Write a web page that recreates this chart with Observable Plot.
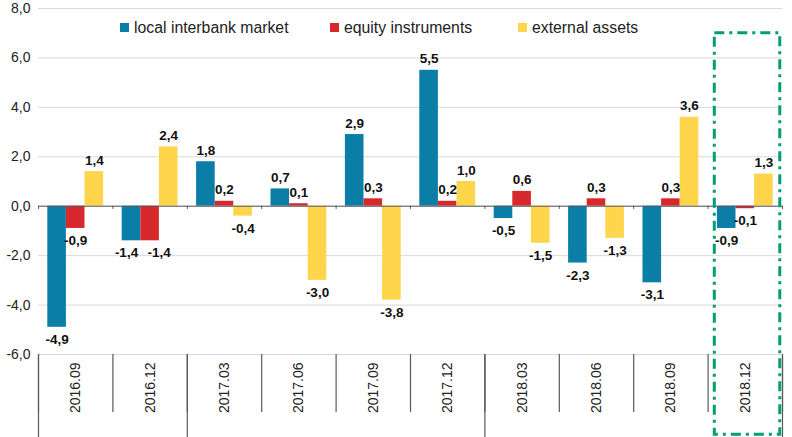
<!DOCTYPE html>
<html>
<head>
<meta charset="utf-8">
<script src="https://cdn.jsdelivr.net/npm/d3@7"></script>
<script src="https://cdn.jsdelivr.net/npm/@observablehq/plot@0.6"></script>
<style>
  html, body { margin: 0; padding: 0; background: #fff; }
  #wrap { position: relative; width: 792px; height: 437px; font-family: "Liberation Sans", Arial, sans-serif; }
  #legend { position: absolute; top: 19px; left: 0; width: 792px; font-size: 15.8px; color: #222; white-space: nowrap; }
  #legend span.item { position: absolute; top: 0; }
  #legend i { display: inline-block; width: 9px; height: 9px; margin-right: 5px; vertical-align: 1px; }
</style>
</head>
<body>
<div id="wrap">
  <div id="chart"></div>
  <div id="legend"></div>
</div>
<script>
const categories = ["2016.09","2016.12","2017.03","2017.06","2017.09","2017.12","2018.03","2018.06","2018.09","2018.12"];
const seriesNames = ["local interbank market","equity instruments","external assets"];
const localInterbank = [-4.9, -1.4, 1.8, 0.7, 2.9, 5.5, -0.5, -2.3, -3.1, -0.9];
const equityInstruments = [-0.9, -1.4, 0.2, 0.1, 0.3, 0.2, 0.6, 0.3, 0.3, -0.1];
const externalAssets = [1.4, 2.4, -0.4, -3.0, -3.8, 1.0, -1.5, -1.3, 3.6, 1.3];
const yTicks = [-6, -4, -2, 0, 2, 4, 6, 8];
const yearGroupBounds = [0, 2, 6, 10];
const highlighted = "2018.12";
const colors = ["#0B7EA8", "#D6282D", "#FFD54C"];
const legendLeft = [120, 330, 518];

const seriesValues = [localInterbank, equityInstruments, externalAssets];
const rows = [];
categories.forEach((c, i) => {
  seriesValues.forEach((vals, k) => {
    // labels of equal neighbouring negative bars are pushed apart, as in the source
    const clash = vals[i] < 0 && k < 2 && localInterbank[i] < 0 && equityInstruments[i] < 0 &&
      Math.abs(localInterbank[i] - equityInstruments[i]) < 0.3;
    rows.push({cat: c, i, series: seriesNames[k], k, value: vals[i],
      x1: i + 0.125 + 0.25 * k, x2: i + 0.375 + 0.25 * k,
      nudge: clash ? (k === 0 ? -1 : 1) : 0});
  });
});
const fmt = v => v.toFixed(1).replace(".", ",");
const catRows = categories.map((c, i) => ({cat: c, i}));
const bounds = d3.range(categories.length + 1);
const hi = categories.indexOf(highlighted);
const mid = d => (d.x1 + d.x2) / 2;
const labelStyle = {text: d => fmt(d.value), fontWeight: "bold", fontSize: 13.5, fill: "#111"};

const plot = Plot.plot({
  width: 792,
  height: 437,
  marginLeft: 38,
  marginRight: 10,
  marginTop: 8,
  marginBottom: 83,
  style: {fontFamily: "Liberation Sans, Arial, sans-serif", background: "#fff"},
  x: {domain: [0, categories.length], axis: null},
  y: {domain: [-6, 8], axis: null},
  color: {domain: seriesNames, range: colors},
  marks: [
    Plot.gridY(yTicks, {stroke: "#d9d9d9", strokeOpacity: 1, strokeWidth: 1}),
    Plot.axisY(yTicks, {tickSize: 0, tickPadding: 8, tickFormat: fmt, fontSize: 14, fill: "#222", stroke: null, label: null}),
    Plot.rectY(rows, {x1: "x1", x2: "x2", y1: 0, y2: "value", fill: "series"}),
    Plot.ruleY([0], {stroke: "#595959", strokeWidth: 1}),
    Plot.ruleX(bounds, {x: d => d, y1: 0, y2: -0.13, stroke: "#595959"}),
    Plot.text(rows.filter(d => d.value >= 0), {x: mid, y: "value", lineAnchor: "bottom", dy: -7, ...labelStyle}),
    Plot.text(rows.filter(d => d.value < 0 && d.nudge === 0), {x: mid, y: "value", lineAnchor: "top", dy: 7, ...labelStyle}),
    Plot.text(rows.filter(d => d.value < 0 && d.nudge < 0), {x: mid, y: "value", lineAnchor: "top", dy: 7, dx: -5, ...labelStyle}),
    Plot.text(rows.filter(d => d.value < 0 && d.nudge > 0), {x: mid, y: "value", lineAnchor: "top", dy: 7, dx: 9, ...labelStyle}),
    Plot.ruleX(bounds, {x: d => d, y1: -6, y2: -8.35, stroke: "#595959", strokeWidth: 1.2}),
    Plot.ruleX(yearGroupBounds, {x: d => d, y1: -6, y2: -9.4, stroke: "#595959", strokeWidth: 1.2}),
    Plot.text(catRows, {x: d => d.i + 0.5, y: -6, text: "cat", rotate: -90, textAnchor: "end",
      lineAnchor: "middle", dy: 8, fontSize: 14, fill: "#222"}),
    Plot.rect([hi], {x1: d => d + 0.09, x2: d => d + 0.97, y1: 7, y2: -9.25, fill: "none",
      stroke: "#009E73", strokeWidth: 3, strokeDasharray: "10,5,3,5"})
  ]
});
document.getElementById("chart").appendChild(plot);

const legend = document.getElementById("legend");
seriesNames.forEach((n, k) => {
  const s = document.createElement("span");
  s.className = "item";
  s.style.left = legendLeft[k] + "px";
  const sw = document.createElement("i");
  sw.style.background = colors[k];
  s.appendChild(sw);
  s.appendChild(document.createTextNode(n));
  legend.appendChild(s);
});
</script>
</body>
</html>
